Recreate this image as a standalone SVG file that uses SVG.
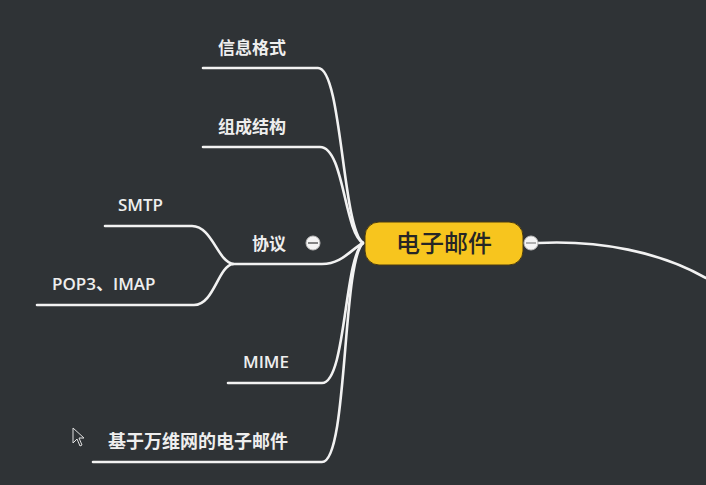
<svg xmlns="http://www.w3.org/2000/svg" width="706" height="485" viewBox="0 0 706 485">
<style>
.ln{fill:none;stroke:#f2f2f2;stroke-width:2.6;stroke-linecap:round}
.lb{font-family:"Noto Sans CJK SC","Liberation Sans",sans-serif;font-size:17px;fill:#eeeeee;font-weight:bold}
.lat{font-family:"Open Sans","Liberation Sans","Noto Sans CJK SC",sans-serif;font-size:17px;fill:#eeeeee;font-weight:600}
.tog{fill:#f4f4f4;stroke:#bbbbbb;stroke-width:1}
</style>
<rect width="706" height="485" fill="#2f3336"/>
<g id="connectors">
<path class="ln" d="M203,68 H318 C342,68 342,228 363,243"/>
<path class="ln" d="M203,147 H320 C344,147 344,232 363,243"/>
<path class="ln" d="M233,264 H322 C342,264 350,250 363,243"/>
<path class="ln" d="M105,226 H192 C212,226 218,262 233,264"/>
<path class="ln" d="M37,305 H194 C214,305 218,266 233,264"/>
<path class="ln" d="M228,383 H322 C346,383 344,258 363,243"/>
<path class="ln" d="M93,462 H322 C348,462 342,262 363,243"/>
<path class="ln" d="M538,243 C600,240 660,252 706,278"/>
</g>
<g id="center">
<rect x="365" y="222" width="158" height="43" rx="14" fill="#f7c51e" stroke="#4a3a10" stroke-width="1"/>
<text x="444" y="252" text-anchor="middle" font-family="Noto Sans CJK SC,sans-serif" font-size="24" font-weight="500" fill="#262626">电子邮件</text>
<circle class="tog" cx="531" cy="243" r="7"/>
<line x1="526" y1="243" x2="536" y2="243" stroke="#999" stroke-width="1.5"/>
</g>
<g id="n1"><text class="lb" x="218" y="54">信息格式</text></g>
<g id="n2"><text class="lb" x="218" y="133">组成结构</text></g>
<g id="n3"><text class="lb" x="252" y="250">协议</text>
<circle class="tog" cx="313" cy="243" r="7"/>
<line x1="308" y1="243" x2="318" y2="243" stroke="#777" stroke-width="1.8"/></g>
<g id="n4"><text class="lat" x="118" y="211">SMTP</text></g>
<g id="n5"><text class="lat" x="52" y="290">POP3、IMAP</text></g>
<g id="n6"><text class="lat" x="243" y="368">MIME</text></g>
<g id="n7"><text class="lb" x="108" y="448" style="font-size:18px">基于万维网的电子邮件</text></g>
<path d="M73,428 L73,443 L77,439 L80,446 L82,445 L79,438 L84,438 Z" fill="#2f3336" stroke="#e0e0e0" stroke-width="1"/>
</svg>
